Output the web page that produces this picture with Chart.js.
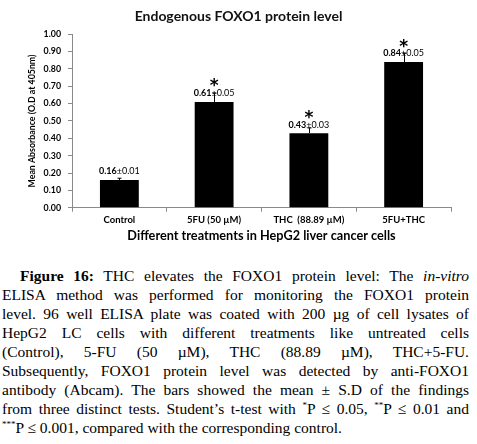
<!DOCTYPE html>
<html>
<head>
<meta charset="utf-8">
<script src="https://cdn.jsdelivr.net/npm/chart.js@4.4.1/dist/chart.umd.min.js"></script>
<style>
body { margin: 0; background: #fff; }
#chartBox { position: absolute; left: 0; top: 0; width: 477px; height: 265px; }
#caption { position: absolute; left: 2px; top: 265.5px; width: 467px; font-family: "Liberation Serif", "Times New Roman", serif; font-size: 15.5px; line-height: 19.1px; color: #000; }
.ln { text-align: justify; text-align-last: justify; white-space: nowrap; }
.last { text-align: left; text-align-last: left; }
sup { font-size: 9px; line-height: 0; vertical-align: 6px; }
</style>
</head>
<body>
<div id="chartBox"><canvas id="foxoChart" width="477" height="265"></canvas></div>
<div id="caption">
  <div class="ln" style="padding-left:18px"><b>Figure 16:</b> THC elevates the FOXO1 protein level: The <i>in-vitro</i></div>
  <div class="ln">ELISA method was performed for monitoring the FOXO1 protein</div>
  <div class="ln">level. 96 well ELISA plate was coated with 200 µg of cell lysates of</div>
  <div class="ln">HepG2 LC cells with different treatments like untreated cells</div>
  <div class="ln">(Control), 5-FU (50 µM), THC (88.89 µM), THC+5-FU.</div>
  <div class="ln">Subsequently, FOXO1 protein level was detected by anti-FOXO1</div>
  <div class="ln">antibody (Abcam). The bars showed the mean ± S.D of the findings</div>
  <div class="ln">from three distinct tests. Student’s t-test with <sup>*</sup>P ≤ 0.05, <sup>**</sup>P ≤ 0.01 and</div>
  <div class="ln last"><sup>***</sup>P ≤ 0.001, compared with the corresponding control.</div>
</div>
<script>
var categories = ["Control", "5FU (50 µM)", "THC  (88.89 µM)", "5FU+THC"];
var means = [0.16, 0.61, 0.43, 0.84];
var sds = [0.01, 0.05, 0.03, 0.05];
var significance = ["", "*", "*", "*"];

var axisGray = "#8a8a8a";

// centre the chart title on the whole canvas, not on the padded box
var titleCenterPlugin = {
    id: "titleCenter",
    afterLayout: function (chart)
    {
        if (chart.titleBlock)
        {
            chart.titleBlock.left = 0;
            chart.titleBlock.right = chart.width;
        }
    }
};

// error bars, "mean±sd" labels and the asterisks above each bar
var errorLabelPlugin = {
    id: "errorLabels",
    afterDatasetsDraw: function (chart)
    {
        var ctx = chart.ctx;
        var meta = chart.getDatasetMeta(0);
        var yScale = chart.scales.y;
        ctx.save();
        for (var i = 0; i < means.length; i++)
        {
            var bar = meta.data[i];
            var x = Math.round(bar.x) + 0.5;
            var top = yScale.getPixelForValue(means[i]);
            var errTop = yScale.getPixelForValue(means[i] + sds[i]);

            ctx.strokeStyle = "#000";
            ctx.lineWidth = 1;
            ctx.beginPath();
            ctx.moveTo(x, top);
            ctx.lineTo(x, errTop);
            ctx.moveTo(x - 2, errTop);
            ctx.lineTo(x + 2, errTop);
            ctx.stroke();

            var meanText = means[i].toFixed(2);
            var sdText = "±" + sds[i].toFixed(2);
            ctx.font = "bold 9px Lato";
            var w1 = ctx.measureText(meanText).width;
            ctx.font = "9px Lato";
            var w2 = ctx.measureText(sdText).width;
            var x0 = bar.x - (w1 + w2) / 2;
            var labelY = top - 8.5;

            ctx.fillStyle = "#000";
            ctx.textAlign = "left";
            ctx.textBaseline = "middle";
            ctx.font = "bold 9px Lato";
            ctx.fillText(meanText, x0, labelY);
            ctx.font = "9px Lato";
            ctx.fillText(sdText, x0 + w1, labelY);

            if (significance[i])
            {
                ctx.font = "bold 17px 'DejaVu Sans'";
                ctx.textAlign = "center";
                ctx.textBaseline = "alphabetic";
                ctx.fillText(significance[i], bar.x, labelY - 11.5 + 9.5);
            }
        }
        ctx.restore();
    }
};

var foxoChart = new Chart(document.getElementById("foxoChart"), {
    type: "bar",
    data: {
        labels: categories,
        datasets: [{
            label: "Mean Absorbance",
            data: means,
            backgroundColor: "#000",
            borderWidth: 0,
            categoryPercentage: 1.0,
            barPercentage: 0.41
        }]
    },
    options: {
        responsive: false,
        animation: false,
        layout: {
            padding: { left: 0, right: 26, top: 0, bottom: 0 }
        },
        plugins: {
            legend: { display: false },
            tooltip: { enabled: false },
            title: {
                display: true,
                text: "Endogenous FOXO1 protein level",
                color: "#111",
                font: { family: "Lato", size: 14, weight: "bold" },
                padding: { top: 8.3, bottom: 9.2 }
            }
        },
        scales: {
            x: {
                afterFit: function (scale) { scale.height = 57.3; },
                grid: { display: true, drawOnChartArea: false, drawTicks: true, tickLength: 4, color: axisGray, offset: true },
                border: { display: true, color: axisGray },
                ticks: {
                    color: "#000",
                    padding: 3,
                    maxRotation: 0,
                    font: { family: "Lato", size: 9.5, weight: "bold" }
                },
                title: {
                    display: true,
                    text: "Different treatments in HepG2 liver cancer cells",
                    color: "#000",
                    font: { family: "Lato", size: 12.7, weight: "bold" },
                    padding: { top: 0, bottom: 21.4 }
                }
            },
            y: {
                min: 0,
                max: 1,
                afterFit: function (scale) { scale.width = 72; },
                grid: { display: true, drawOnChartArea: false, drawTicks: true, tickLength: 4, color: axisGray },
                border: { display: true, color: axisGray },
                ticks: {
                    stepSize: 0.1,
                    color: "#000",
                    padding: 7,
                    font: { family: "Lato", size: 8.8, weight: "bold" },
                    callback: function (value) { return value.toFixed(2); }
                },
                title: {
                    display: true,
                    text: "Mean Absorbance (O.D at 405nm)",
                    color: "#000",
                    font: { family: "Lato", size: 8.8, weight: "bold" },
                    padding: { top: 26.7, bottom: 0 }
                }
            }
        }
    },
    plugins: [titleCenterPlugin, errorLabelPlugin]
});
</script>
</body>
</html>
